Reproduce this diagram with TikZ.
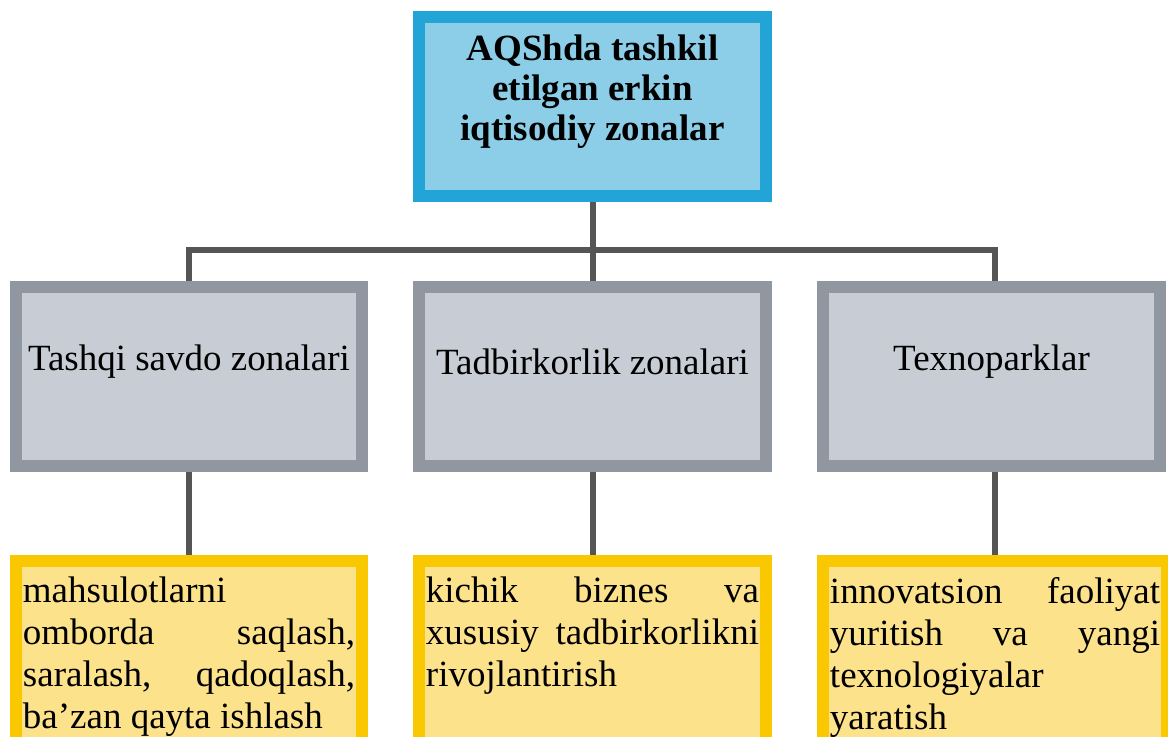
\documentclass[tikz,border=0pt]{standalone}
\usepackage{fontspec}
\setmainfont{Liberation Serif}
\usetikzlibrary{calc, backgrounds}

\definecolor{headBorder}{HTML}{22A4D6}
\definecolor{headFill}{HTML}{8CCEE8}
\definecolor{typeBorder}{HTML}{9097A0}
\definecolor{typeFill}{HTML}{C8CCD4}
\definecolor{goalBorder}{HTML}{FAC800}
\definecolor{goalFill}{HTML}{FDE28C}
\definecolor{treeGray}{HTML}{555555}

% texto centrado (um pouco acima do meio) e texto justificado no topo
\newcommand{\typeLabel}[2]{\parbox[c][4.475cm][c]{#1}{\centering #2\par\vspace{0.75cm}}}
\newcommand{\goalLabel}[2]{\parbox[t][5cm][t]{#1}{#2}}

\tikzset{
  headBox/.style={draw=headBorder, fill=headFill, line width=0.3cm, inner sep=0pt,
    font=\fontsize{26.3}{28.5}\selectfont\bfseries},
  typeBox/.style={draw=typeBorder, fill=typeFill, line width=0.3cm, inner sep=0pt,
    font=\fontsize{26.3}{30}\selectfont},
  goalBox/.style={draw=goalBorder, fill=goalFill, line width=0.3cm, anchor=north,
    inner xsep=0.175cm, inner ysep=0.4cm, font=\fontsize{26.3}{29.9}\selectfont},
  treeLine/.style={draw=treeGray, line width=0.15cm}
}

\begin{document}
\begin{tikzpicture}[x=0.025cm, y=0.025cm]
  \useasboundingbox (0,0) rectangle (1168,736);
  \clip (0,0) rectangle (1168,736);

  %% --- TOPO ---
  \node[headBox] (top) at (592.5,629.5)
    {\typeLabel{8.675cm}{AQShda tashkil\\ etilgan erkin\\ iqtisodiy zonalar}};

  %% --- TIPOS DE ZONAS ---
  \node[typeBox] (g1) at (189,359.5)   {\typeLabel{8.65cm}{Tashqi savdo zonalari}};
  \node[typeBox] (g2) at (592.5,359.5) {\typeLabel{8.675cm}{Tadbirkorlik zonalari}};
  \node[typeBox] (g3) at (991.5,359.5) {\typeLabel{8.425cm}{Texnoparklar}};

  %% --- FUNCOES ---
  \node[goalBox] (y1) at (189,181)
    {\goalLabel{8.3cm}{mahsulotlarni\\ omborda\hfill saqlash,\\ saralash,\hfill qadoqlash,\\ ba’zan qayta ishlash}};
  \node[goalBox] (y2) at (592.5,181)
    {\goalLabel{8.325cm}{kichik\hfill biznes\hfill va\\ xususiy\hfill tadbirkorlikni\\ rivojlantirish}};
  \node[goalBox] (y3) at (995,181)
    {\goalLabel{8.25cm}{innovatsion\hfill faoliyat\\ yuritish\hfill va\hfill yangi\\ texnologiyalar\\ yaratish}};

  %% Linhas da arvore (atras das caixas)
  \begin{scope}[on background layer]
    \coordinate (bus) at (top.south |- 0,486);
    \draw[treeLine] (top.south) -- (g2.north);
    \draw[treeLine] (g1.north) |- (bus) -| (y3.north |- g3.north);

    \draw[treeLine] (g1.south) -- (y1.north);
    \draw[treeLine] (g2.south) -- (y2.north);
    \draw[treeLine] (y3.north |- g3.south) -- (y3.north);
  \end{scope}
\end{tikzpicture}
\end{document}
